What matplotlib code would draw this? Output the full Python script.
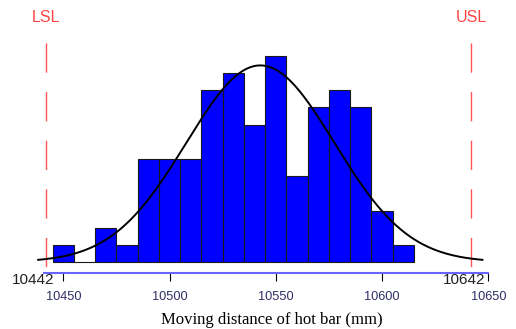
import numpy as np
import matplotlib
matplotlib.use("Agg")
import matplotlib.pyplot as plt

# histogram of hot bar moving distance (mm), 10 mm bins
bin_edges = np.arange(10445, 10625, 10)
counts = [1, 0, 2, 1, 6, 6, 6, 10, 11, 8, 12, 5, 9, 10, 9, 3, 1]
lsl = 10442
usl = 10642
xticks = [10450, 10500, 10550, 10600, 10650]

bin_width = np.diff(bin_edges)
centers = bin_edges[:-1] + bin_width / 2
n = sum(counts)
mean = np.sum(centers * counts) / n
sigma = np.sqrt(np.sum(counts * (centers - mean) ** 2) / n)

fig = plt.figure(figsize=(5.16, 3.29), dpi=100)
ax = fig.add_axes([0, 56 / 329, 1, 273 / 329])

ax.bar(bin_edges[:-1], counts, width=bin_width, align='edge',
       color='#0000ff', edgecolor='#1a1a1a', linewidth=0.8, zorder=2)

# fitted normal curve, +/- 3 sigma
xc = np.linspace(mean - 3 * sigma, mean + 3 * sigma, 300)
yc = n * bin_width[0] / (sigma * np.sqrt(2 * np.pi)) * np.exp(-0.5 * ((xc - mean) / sigma) ** 2)
ax.plot(xc, yc, color='black', lw=1.4, zorder=3)

# spec limits
ytop = 12.75
for lim, name in [(lsl, 'LSL'), (usl, 'USL')]:
    ln, = ax.plot([lim, lim], [ytop, -0.64], color='#ff5555', lw=1.0, zorder=1)
    ln.set_dashes((21, 14))
    ax.text(lim, 14.25, name, color='#ff4444', fontsize=11.5, ha='center', va='center',
            family='Liberation Sans')

ax.text(lsl + 3.6, -1.05, str(lsl), fontsize=11, ha='right', va='center',
        family='Liberation Sans', color='#222222')
ax.text(usl + 6.4, -1.05, str(usl), fontsize=11, ha='right', va='center',
        family='Liberation Sans', color='#222222')

ax.set_xlim(10420.2, 10663.0)
ax.set_ylim(-0.64, 15.26)
for s in ['left', 'right', 'top']:
    ax.spines[s].set_visible(False)
ax.spines['bottom'].set_color('#6666ff')
ax.spines['bottom'].set_linewidth(1.5)
ax.spines['bottom'].set_bounds(10441, 10650)
ax.set_yticks([])
ax.set_xticks(xticks)
ax.set_xticklabels([str(t) for t in xticks], family='Liberation Sans')
ax.tick_params(axis='x', direction='out', length=6, width=0.8, color='black',
               pad=7, labelsize=9.2, labelcolor='#2e2e66')

fig.text(271.5 / 516, 1 - 320 / 329, 'Moving distance of hot bar (mm)',
         fontsize=12, family='Liberation Serif', ha='center', va='center')

fig.savefig('out.png', dpi=100)
